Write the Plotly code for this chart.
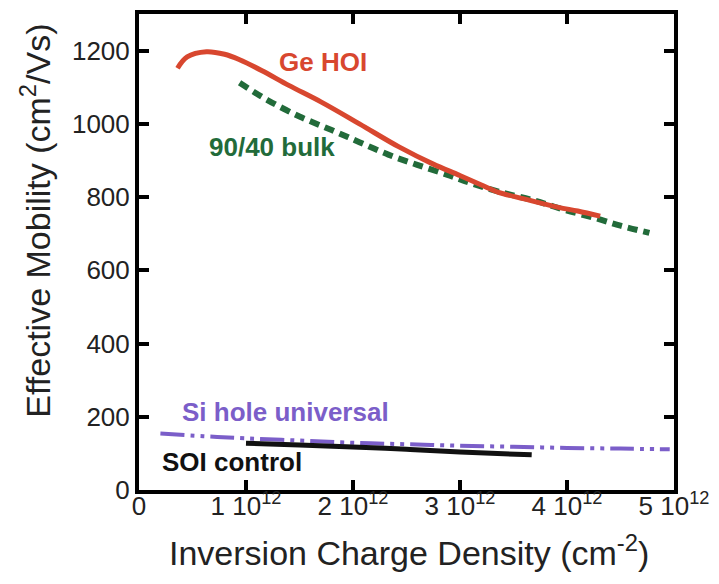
import plotly.graph_objects as go

# Inversion charge density (cm^-2) and effective mobility (cm^2/Vs)
ge_hoi_x = [0.36e12, 0.45e12, 0.63e12, 0.8e12, 0.94e12, 1.15e12, 1.4e12, 1.7e12, 2.06e12,
            2.43e12, 2.75e12, 2.99e12, 3.2e12, 3.36e12, 3.6e12, 3.92e12, 4.1e12, 4.31e12]
ge_hoi_y = [1152, 1183, 1197, 1190, 1175, 1145, 1105, 1060, 1000,
            937, 890, 860, 833, 813, 795, 772, 762, 748]

bulk_x = [0.94e12, 1.2e12, 1.5e12, 1.8e12, 2.06e12, 2.33e12, 2.6e12, 2.89e12,
          3.1e12, 3.36e12, 3.7e12, 3.98e12, 4.27e12, 4.5e12, 4.77e12]
bulk_y = [1112, 1065, 1020, 983, 950, 916, 888, 860,
          838, 815, 790, 765, 742, 722, 702]

si_univ_x = [0.2e12, 0.6e12, 1.0e12, 1.5e12, 2.0e12, 2.5e12, 3.0e12, 3.5e12, 4.0e12, 4.5e12, 4.96e12]
si_univ_y = [154, 147, 141, 135, 129, 125, 121, 118, 115, 113, 111]

soi_x = [1.0e12, 1.5e12, 2.06e12, 2.5e12, 3.0e12, 3.67e12]
soi_y = [128, 123, 117, 111, 104, 96]

x_tickvals = [0, 1e12, 2e12, 3e12, 4e12, 5e12]
x_ticktext = ["0", "1 10<sup>12</sup>", "2 10<sup>12</sup>", "3 10<sup>12</sup>",
              "4 10<sup>12</sup>", "5 10<sup>12</sup>"]
y_tickvals = [0, 200, 400, 600, 800, 1000, 1200]

RED = "#d8472f"
GREEN = "#226b3a"
PURPLE = "#7b5ec9"
BLACK = "#111111"
FONT = "Liberation Sans, Arial, Helvetica, sans-serif"

fig = go.Figure()
fig.add_trace(go.Scatter(x=bulk_x, y=bulk_y, mode="lines",
                         line=dict(color=GREEN, width=6, dash="10px,6px", shape="spline")))
fig.add_trace(go.Scatter(x=ge_hoi_x, y=ge_hoi_y, mode="lines",
                         line=dict(color=RED, width=5, shape="spline")))
fig.add_trace(go.Scatter(x=si_univ_x, y=si_univ_y, mode="lines",
                         line=dict(color=PURPLE, width=4, dash="24px,6px,4px,6px,4px,6px",
                                   shape="spline")))
fig.add_trace(go.Scatter(x=soi_x, y=soi_y, mode="lines",
                         line=dict(color=BLACK, width=5, shape="spline")))

axis_common = dict(
    showline=True, linecolor="black", linewidth=4, mirror="allticks",
    ticks="inside", ticklen=10, tickwidth=4, tickcolor="black",
    showgrid=False, zeroline=False,
    tickfont=dict(family=FONT, size=26, color="#222222"),
)

fig.update_xaxes(range=[0, 5e12], tickvals=x_tickvals, ticktext=x_ticktext,
                 ticklabelstandoff=-10, **axis_common)
fig.update_yaxes(range=[0, 1300], tickvals=y_tickvals, ticklabelstandoff=0, **axis_common)

labels = [
    ("Ge HOI", 1.72e12, 1168, RED),
    ("90/40 bulk", 1.24e12, 937, GREEN),
    ("Si hole universal", 1.37e12, 214, PURPLE),
    ("SOI control", 0.865e12, 76, BLACK),
]
for text, x, y, color in labels:
    fig.add_annotation(x=x, y=y, xref="x", yref="y", text=f"<b>{text}</b>",
                       showarrow=False,
                       font=dict(family=FONT, size=26, color=color))

fig.add_annotation(x=0.505, y=-0.128, xref="paper", yref="paper",
                   text="Inversion Charge Density (cm<sup>-2</sup>)", showarrow=False,
                   yanchor="middle",
                   font=dict(family=FONT, size=34, color="#222222"))
fig.add_annotation(x=-0.195, y=0.565, xref="paper", yref="paper", textangle=-90,
                   text="Effective Mobility (cm<sup>2</sup>/Vs)", showarrow=False,
                   xanchor="center",
                   font=dict(family=FONT, size=34, color="#222222"))

fig.update_layout(
    width=719, height=584,
    margin=dict(l=139, r=42, t=10, b=94),
    paper_bgcolor="white", plot_bgcolor="white",
    showlegend=False,
)

fig.write_html("out.html")
